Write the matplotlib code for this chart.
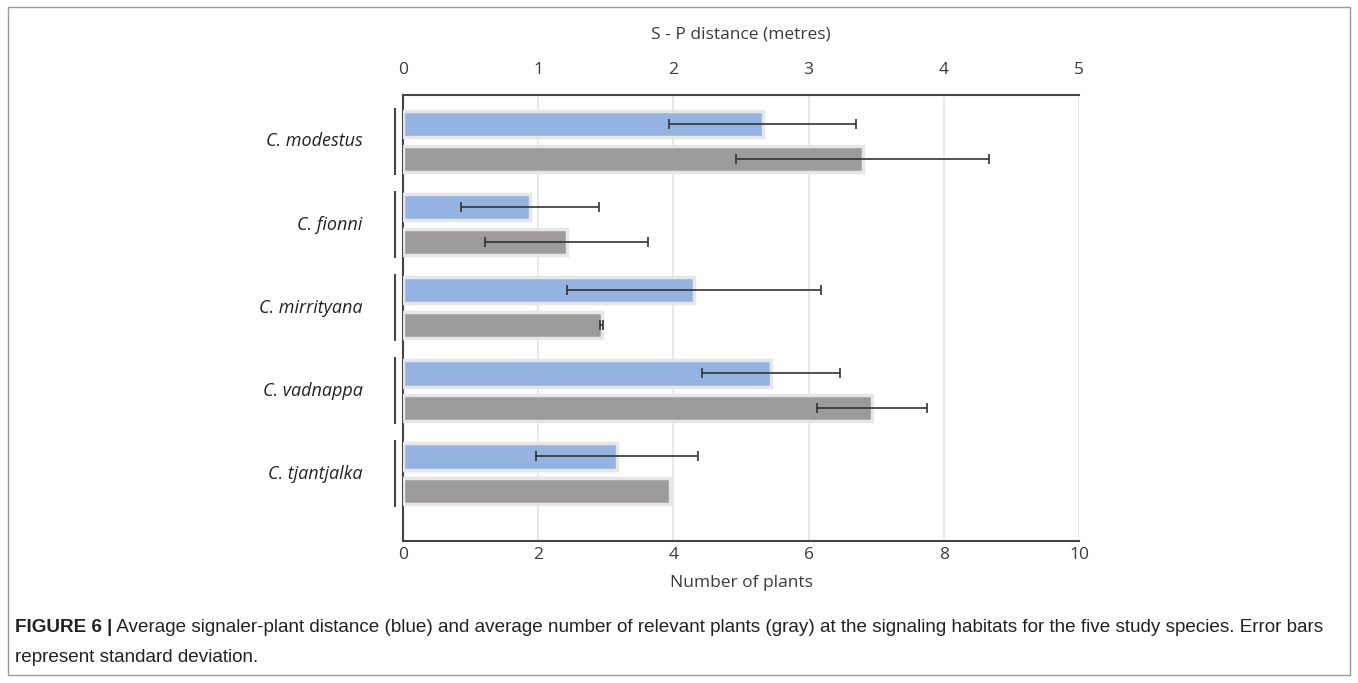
import matplotlib
matplotlib.use("Agg")
from matplotlib import pyplot as plt
from matplotlib.patches import Rectangle

# species (top to bottom)
species = ["C. modestus", "C. fionni", "C. mirrityana", "C. vadnappa", "C. tjantjalka"]

# signaler-plant distance in metres (blue, top axis)
dist_mean = [2.66, 0.94, 2.15, 2.72, 1.58]
dist_sd = [0.69, 0.51, 0.94, 0.51, 0.60]

# number of relevant plants (gray, bottom axis)
plants_mean = [6.80, 2.42, 2.94, 6.94, 3.95]
plants_sd = [1.87, 1.21, 0.02, 0.81, 0.0]

top_ticks = [0, 1, 2, 3, 4, 5]
bottom_ticks = [0, 2, 4, 6, 8, 10]

caption_bold = "FIGURE 6 |"
caption_rest = (" Average signaler-plant distance (blue) and average number of relevant plants (gray) "
                "at the signaling habitats for the five study species. Error bars")
caption_line2 = "represent standard deviation."

BLUE = "#95b3e0"
GRAY = "#9c9a9b"
EDGE = "#e6e6e6"
TXT = "#3a3a3a"

fig = plt.figure(figsize=(13.58, 6.83), dpi=100)
fig.patch.set_facecolor("white")

ax = fig.add_axes([0.2968, 0.2079, 0.4978, 0.6531])
ax2 = ax.twiny()

pos = list(range(len(species)))
off = 0.21
h = 0.32

ax.barh([p + off for p in pos], plants_mean, height=h, color=GRAY,
        edgecolor=EDGE, linewidth=2.5, zorder=3)
ax.errorbar(plants_mean[:4], [p + off for p in pos[:4]], xerr=plants_sd[:4], fmt="none",
            ecolor="#333333", elinewidth=1.2, capsize=3.5, capthick=1.2, zorder=4)

ax2.barh([p - off for p in pos], dist_mean, height=h, color=BLUE,
         edgecolor=EDGE, linewidth=2.5, zorder=3)
ax2.errorbar(dist_mean, [p - off for p in pos], xerr=dist_sd, fmt="none",
             ecolor="#333333", elinewidth=1.2, capsize=3.5, capthick=1.2, zorder=4)

ax.set_xlim(0, 10)
ax2.set_xlim(0, 5)
ax.set_ylim(4.81, -0.56)

ax.set_xticks(bottom_ticks)
ax2.set_xticks(top_ticks)
ax.set_yticks([])
ax2.set_yticks([])

for a in (ax, ax2):
    for s in a.spines.values():
        s.set_visible(False)
    a.set_facecolor("none")
ax.tick_params(axis="x", length=0, labelsize=12.5, labelcolor=TXT, pad=4)
ax2.tick_params(axis="x", length=0, labelsize=12.5, labelcolor=TXT, pad=12)
for a in (ax, ax2):
    for lbl in a.get_xticklabels():
        lbl.set_family("Open Sans")

ax.spines["bottom"].set_visible(True)
ax.spines["left"].set_visible(True)
ax2.spines["top"].set_visible(True)
for s in (ax.spines["bottom"], ax.spines["left"], ax2.spines["top"]):
    s.set_color("#444444")
    s.set_linewidth(1.5)

ax.grid(axis="x", color="#dfe4ee", linewidth=1.2, zorder=0)
ax.set_axisbelow(True)

ax.set_xlabel("Number of plants", fontsize=12.5, color=TXT, family="Open Sans", labelpad=9)
ax2.set_xlabel("S - P distance (metres)", fontsize=12.5, color=TXT, family="Open Sans", labelpad=17)

# category labels and group brackets
for p, name in zip(pos, species):
    ax.text(-0.6, p, name, ha="right", va="center", fontsize=13, style="italic",
            color="#222222", family="Open Sans")
    ax.plot([-0.12, -0.12], [p - 0.4, p + 0.4], color="#444444", lw=1.5,
            clip_on=False, zorder=5, solid_capstyle="butt")

# frame around the figure
fig.patches.append(Rectangle((8 / 1358, 8 / 683), 1342 / 1358, 668 / 683,
                             transform=fig.transFigure, fill=False,
                             edgecolor="#9a9a9a", linewidth=1))

# caption
cx, cy1, cy2 = 15 / 1358, 1 - 627 / 683, 1 - 657 / 683
t1 = fig.text(cx, cy1, caption_bold, fontsize=13.6, fontweight="bold",
              family="Liberation Sans", color="#222222", va="center")
fig.canvas.draw()
bb = t1.get_window_extent()
fig.text(bb.x1 / fig.bbox.width, cy1, caption_rest, fontsize=13.6,
         family="Liberation Sans", color="#222222", va="center")
fig.text(cx, cy2, caption_line2, fontsize=13.6, family="Liberation Sans",
         color="#222222", va="center")

fig.savefig("out.png", dpi=100)
